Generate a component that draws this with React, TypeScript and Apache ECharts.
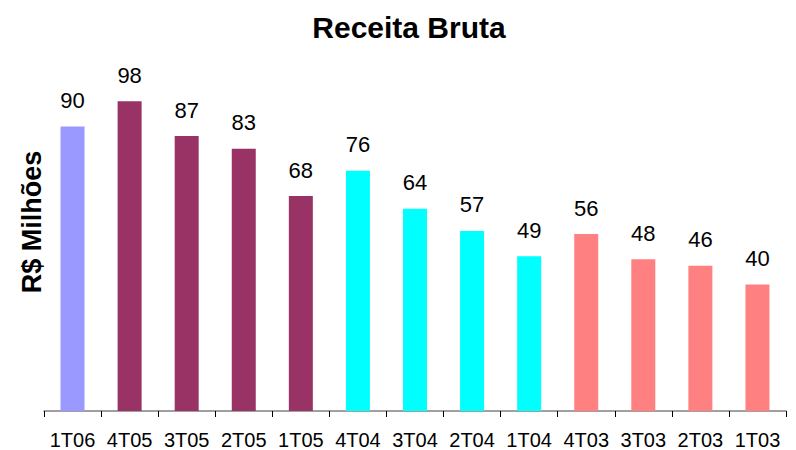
import React, { useEffect, useRef } from "react";
import * as echarts from "echarts";

const title = "Receita Bruta";
const yAxisTitle = "R$ Milhões";
const categories = ["1T06", "4T05", "3T05", "2T05", "1T05", "4T04", "3T04", "2T04", "1T04", "4T03", "3T03", "2T03", "1T03"];
const values = [90, 98, 87, 83, 68, 76, 64, 57, 49, 56, 48, 46, 40];
const yearGroups = ["2006", "2005", "2005", "2005", "2005", "2004", "2004", "2004", "2004", "2003", "2003", "2003", "2003"];
const groupColors: Record<string, string> = {
  "2006": "#9999FF",
  "2005": "#993366",
  "2004": "#00FFFF",
  "2003": "#FF8080",
};

export default function App() {
  const ref = useRef<HTMLDivElement>(null);
  useEffect(() => {
    document.body.style.margin = "0";
    const chart = echarts.init(ref.current!, null, { renderer: "svg" });
    chart.setOption({
      animation: false,
      backgroundColor: "#ffffff",
      title: {
        text: title,
        left: 404,
        top: 7,
        textAlign: "center",
        textStyle: { fontFamily: "Liberation Sans", fontSize: 30, fontWeight: "bold", color: "#000" },
      },
      graphic: [
        {
          type: "text",
          x: 32,
          y: 222,
          rotation: Math.PI / 2,
          style: {
            text: yAxisTitle,
            fontFamily: "Liberation Sans",
            fontSize: 27,
            fontWeight: "bold",
            fill: "#000",
            textAlign: "center",
            textVerticalAlign: "middle",
          },
        },
      ],
      grid: { left: 44, right: 10, top: 95, bottom: 39, containLabel: false },
      xAxis: {
        type: "category",
        data: categories,
        axisLine: { lineStyle: { color: "#808080", width: 1.5 } },
        axisTick: { show: true, length: 6, lineStyle: { color: "#000" }, alignWithLabel: false },
        axisLabel: { fontFamily: "Liberation Sans", fontSize: 20, color: "#000", margin: 19, interval: 0 },
      },
      yAxis: {
        type: "value",
        min: 0,
        max: 100,
        show: false,
        splitLine: { show: false },
      },
      series: [
        {
          type: "bar",
          barWidth: 24,
          data: values.map((v, i) => ({ value: v, itemStyle: { color: groupColors[yearGroups[i]] } })),
          label: {
            show: true,
            position: "top",
            distance: 15,
            fontFamily: "Liberation Sans",
            fontSize: 22,
            color: "#000",
          },
        },
      ],
    });
    return () => chart.dispose();
  }, []);
  return <div ref={ref} style={{ width: 796, height: 450 }} />;
}
